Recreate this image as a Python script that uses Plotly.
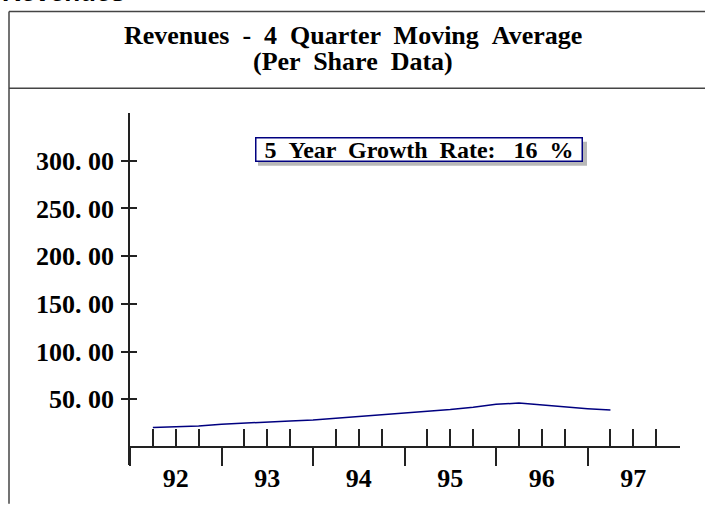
import plotly.graph_objects as go

# ---- data ----
quarter_pos = [1992.25, 1992.5, 1992.75, 1993.0, 1993.25, 1993.5, 1993.75,
               1994.0, 1994.25, 1994.5, 1994.75, 1995.0, 1995.25, 1995.5,
               1995.75, 1996.0, 1996.25, 1996.5, 1996.75, 1997.0, 1997.25]
revenues = [20.5, 21.1, 22.2, 24.0, 25.3, 26.8, 27.4, 28.4, 30.2, 32.3, 34.0,
            35.4, 37.2, 39.3, 41.7, 44.8, 46.1, 44.1, 41.7, 40.3, 38.9]
year_labels = ["92", "93", "94", "95", "96", "97"]
year_starts = [1992, 1993, 1994, 1995, 1996, 1997]
year_mids = [1992.5, 1993.5, 1994.5, 1995.5, 1996.5, 1997.5]
quarter_ticks = [y + q for y in year_starts for q in (0.25, 0.5, 0.75)]
y_ticks = [50, 100, 150, 200, 250, 300]
y_ticktext = ["50. 00", "100. 00", "150. 00", "200. 00", "250. 00", "300. 00"]
title_line1 = "Revenues \u00a0- \u00a04 \u00a0Quarter \u00a0Moving \u00a0Average"
title_line2 = "(Per \u00a0Share \u00a0Data)"
growth_text = "5 \u00a0Year \u00a0Growth \u00a0Rate: \u00a0\u00a016 \u00a0%"
corner_text = "Revenues"

W, H = 705, 505
L, R, T, B = 130, 25, 113, 38
PW, PH = W - L - R, H - T - B
XR = [1992, 1998.01]
YR = [-18.75, 350]


def px(x):
    return (x - L) / PW


def py(y):
    return (H - B - y) / PH


serif = "Liberation Serif"
axis_color = "#222"
xpos = (0 - YR[0]) / (YR[1] - YR[0])

fig = go.Figure()
fig.add_trace(go.Scatter(x=quarter_pos, y=revenues, mode="lines",
                         line=dict(color="#000080", width=1.5),
                         showlegend=False, hoverinfo="skip"))
fig.add_trace(go.Scatter(x=[None], y=[None], xaxis="x2", yaxis="y", showlegend=False))
fig.add_trace(go.Scatter(x=[None], y=[None], xaxis="x", yaxis="y2", showlegend=False))

fig.update_layout(
    width=W, height=H, autosize=False,
    margin=dict(l=L, r=R, t=T, b=B, pad=0),
    paper_bgcolor="white", plot_bgcolor="white",
    xaxis=dict(range=XR, anchor="free", position=xpos,
               showline=True, linecolor=axis_color, linewidth=1.5,
               showgrid=False, zeroline=False,
               tickmode="array", tickvals=year_starts, showticklabels=False,
               ticks="outside", ticklen=18, tickwidth=1.5, tickcolor=axis_color,
               minor=dict(tickmode="array", tickvals=quarter_ticks,
                          ticks="inside", ticklen=17, tickwidth=1.5,
                          tickcolor=axis_color, showgrid=False)),
    xaxis2=dict(range=XR, overlaying="x", anchor="free", position=xpos,
                showline=False, showgrid=False, zeroline=False,
                tickmode="array", tickvals=year_mids, ticktext=year_labels,
                ticks="", ticklabelstandoff=13,
                tickfont=dict(family=serif, size=26, color="black", weight="bold")),
    yaxis=dict(range=YR, showline=True, linecolor=axis_color, linewidth=1.5,
               showgrid=False, zeroline=False,
               tickmode="array", tickvals=y_ticks, ticktext=y_ticktext,
               ticks="outside", ticklen=7, tickwidth=1.5, tickcolor=axis_color,
               ticklabelstandoff=2,
               tickfont=dict(family=serif, size=26, color="black", weight="bold")),
    yaxis2=dict(range=YR, overlaying="y", side="left", anchor="x",
                showline=False, showgrid=False, zeroline=False,
                tickmode="array", tickvals=y_ticks, showticklabels=False,
                ticks="inside", ticklen=7, tickwidth=1.5, tickcolor=axis_color),
)

frame_color = "#444"
shapes = [
    dict(type="line", xref="paper", yref="paper", x0=px(9), x1=px(706), y0=py(11), y1=py(11),
         line=dict(color=frame_color, width=1.5)),
    dict(type="line", xref="paper", yref="paper", x0=px(9), x1=px(706), y0=py(88), y1=py(88),
         line=dict(color=frame_color, width=1.5)),
    dict(type="line", xref="paper", yref="paper", x0=px(9), x1=px(9), y0=py(11), y1=py(506),
         line=dict(color=frame_color, width=1.5)),
    dict(type="rect", xref="paper", yref="paper", x0=px(258), x1=px(587), y0=py(166), y1=py(142),
         fillcolor="#b8b8b8", line=dict(width=0)),
]
fig.update_layout(shapes=shapes)

title_font = dict(family=serif, size=26, color="black", weight="bold")
fig.add_annotation(xref="paper", yref="paper", x=px(353), y=py(35),
                   xanchor="center", yanchor="middle", showarrow=False,
                   text=title_line1, font=title_font)
fig.add_annotation(xref="paper", yref="paper", x=px(353), y=py(61.5),
                   xanchor="center", yanchor="middle", showarrow=False,
                   text=title_line2, font=title_font)

fig.add_annotation(xref="paper", yref="paper", x=px(418.5), y=py(150),
                   xanchor="center", yanchor="middle", showarrow=False,
                   text=growth_text, width=325, height=22, borderpad=0,
                   bgcolor="white", bordercolor="#000080", borderwidth=1.5,
                   font=dict(family=serif, size=24, color="black", weight="bold"))
fig.add_annotation(xref="paper", yref="paper", x=px(0), y=py(8.5),
                   xanchor="left", yanchor="bottom", showarrow=False,
                   text=corner_text,
                   font=dict(family="Liberation Sans", size=26, color="black", weight="bold"))

fig.write_html("out.html", config={"displayModeBar": False},
               post_script="document.body.style.margin='0';")
